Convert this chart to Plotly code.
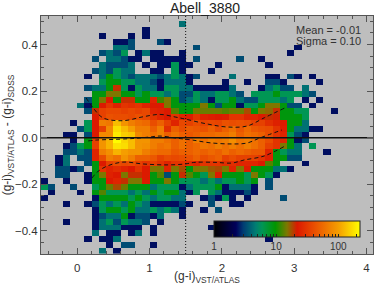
import math
import plotly.graph_objects as go

n, b, t, g, G = 2.4, 3.3, 4.3, 6, 9
o = 15

x_edges_start, x_bin, n_cols = -0.5, 0.1, 46
y_top, y_bin, n_rows = 0.525, 0.025, 41

row_00 = {}
row_01 = {19: t}
row_02 = {14: n}
row_03 = {8: n, 12: n, 14: n}
row_04 = {10: n, 11: n, 12: b, 16: b, 17: n}
row_05 = {10: t, 11: t, 12: b, 21: b, 35: n}
row_06 = {8: b, 9: t, 10: b, 11: g, 13: n, 14: t, 15: n, 16: n, 19: n, 34: n}
row_07 = {7: b, 9: t, 10: t, 11: b, 12: n, 13: n, 15: n, 16: n, 17: n, 18: n, 19: n, 21: b, 27: b, 30: n}
row_08 = {8: t, 9: b, 10: b, 11: b, 12: t, 14: n, 16: n, 17: n, 18: g, 19: n, 20: n, 24: n, 31: n}
row_09 = {7: b, 8: t, 9: b, 10: g, 11: t, 12: t, 15: n, 16: n, 18: g, 19: n, 23: n}
row_10 = {6: n, 8: t, 9: G, 10: g, 11: t, 12: b, 13: t, 14: t, 15: t, 16: b, 17: t, 18: g, 19: t, 20: n, 21: b, 26: t, 31: n, 32: n, 34: b, 35: n, 37: n}
row_11 = {8: g, 9: G, 10: G, 11: g, 12: g, 13: t, 14: t, 15: b, 16: n, 17: t, 18: t, 19: t, 20: n, 25: n, 28: n, 31: b, 32: b, 33: n, 38: n}
row_12 = {6: b, 7: t, 8: t, 9: G, 10: 20, 11: g, 12: n, 13: g, 14: t, 15: t, 16: n, 17: g, 18: g, 19: t, 20: t, 21: n, 22: n, 23: n, 24: n, 25: n, 26: t, 30: n, 31: t, 32: g, 33: b, 34: b, 36: t}
row_13 = {7: G, 8: G, 9: o, 10: o, 11: G, 12: G, 13: g, 14: G, 15: g, 16: g, 17: t, 18: g, 19: b, 20: b, 21: g, 22: t, 23: t, 24: g, 25: g, 26: t, 27: b, 29: g, 30: g, 31: g, 32: G, 33: g, 34: g, 35: g, 36: t, 37: b}
row_14 = {6: b, 7: G, 8: o, 9: 22, 10: G, 11: 20, 12: 20, 13: G, 14: G, 15: 25, 16: 12, 17: o, 18: G, 19: b, 20: t, 21: g, 22: t, 23: n, 24: g, 25: g, 26: G, 27: t, 28: b, 29: b, 30: g, 31: g, 32: g, 33: t, 34: g, 36: n, 38: n}
row_15 = {5: t, 6: n, 7: G, 8: 22, 9: 30, 10: 24, 11: 30, 12: 28, 13: 30, 14: 25, 15: 22, 16: 22, 17: o, 18: G, 19: G, 20: G, 21: G, 22: o, 23: G, 24: b, 25: G, 26: G, 27: n, 28: g, 29: g, 30: G, 31: o, 32: o, 33: G, 34: b, 35: b, 37: n}
row_16 = {6: b, 7: 20, 8: 35, 9: 38, 10: 38, 11: 35, 12: 38, 13: 35, 14: 38, 15: 25, 16: 24, 17: 22, 18: 13, 19: G, 20: G, 21: 14, 22: 14, 23: 14, 24: 14, 25: 13, 26: 14, 27: 14, 28: 18, 29: G, 30: o, 31: 16, 32: 20, 33: G, 34: G, 35: g, 36: g, 40: n}
row_17 = {7: 22, 8: 35, 9: 42, 10: 40, 11: 40, 12: 38, 13: 42, 14: 38, 15: 30, 16: 25, 17: 22, 18: 30, 19: 25, 20: 23, 21: 30, 22: 24, 23: 23, 24: 22, 25: 23, 26: 30, 27: 30, 28: 25, 29: 25, 30: 22, 31: 20, 32: 21, 33: G, 34: G, 35: G, 36: g}
row_18 = {4: n, 6: g, 7: 22, 8: 70, 9: 65, 10: 130, 11: 90, 12: 70, 13: 60, 14: 55, 15: 40, 16: 50, 17: 35, 18: 25, 19: 38, 20: 35, 21: 40, 22: 36, 23: 38, 24: 36, 25: 42, 26: 40, 27: 42, 28: 40, 29: 35, 30: 35, 31: 28, 32: 24, 33: 22, 34: G, 35: G, 36: t}
row_19 = {5: b, 6: g, 7: 22, 8: 35, 9: 80, 10: 170, 11: 130, 12: 100, 13: 70, 14: 70, 15: 50, 16: 70, 17: 28, 18: 50, 19: 40, 20: 48, 21: 45, 22: 42, 23: 50, 24: 40, 25: 50, 26: 60, 27: 45, 28: 55, 29: 45, 30: 42, 31: 40, 32: 30, 33: 23, 34: G, 35: t, 36: t, 37: n, 38: n}
row_20 = {3: n, 4: n, 6: b, 7: 22, 8: 80, 9: 80, 10: 190, 11: 150, 12: 140, 13: 80, 14: 70, 15: 60, 16: 70, 17: 50, 18: 60, 19: 50, 20: 45, 21: 50, 22: 55, 23: 55, 24: 60, 25: 60, 26: 70, 27: 50, 28: 60, 29: 55, 30: 50, 31: 40, 32: 30, 33: 25, 34: g, 35: b, 36: n}
row_21 = {4: n, 6: G, 7: 35, 8: 90, 9: 120, 10: 220, 11: 160, 12: 130, 13: 90, 14: 90, 15: 70, 16: 70, 17: 60, 18: 50, 19: 60, 20: 50, 21: 70, 22: 60, 23: 70, 24: 65, 25: 70, 26: 85, 27: 65, 28: 70, 29: 60, 30: 50, 31: 40, 32: 30, 33: 25, 34: G, 35: n, 36: b}
row_22 = {3: n, 4: b, 5: g, 6: G, 7: 35, 8: 90, 9: 120, 10: 180, 11: 170, 12: 130, 13: 90, 14: 85, 15: 70, 16: 60, 17: 65, 18: 50, 19: 60, 20: 50, 21: 55, 22: 65, 23: 60, 24: 70, 25: 60, 26: 70, 27: 60, 28: 70, 29: 60, 30: 50, 31: 35, 32: 30, 33: o, 34: G, 35: t, 37: g}
row_23 = {3: b, 4: b, 5: t, 6: b, 7: 25, 8: 70, 9: 85, 10: 120, 11: 100, 12: 90, 13: 90, 14: 70, 15: 60, 16: 55, 17: 55, 18: 45, 19: 50, 20: 50, 21: 55, 22: 50, 23: 55, 24: 50, 25: 60, 26: 50, 27: 55, 28: 50, 29: 45, 30: 45, 31: 25, 32: G, 33: g, 34: t, 35: t, 39: n}
row_24 = {2: n, 3: t, 5: b, 6: b, 7: 25, 8: 40, 9: 70, 10: 60, 11: 90, 12: 70, 13: 50, 14: 50, 15: 45, 16: 35, 17: 40, 18: 38, 19: 40, 20: 42, 21: 50, 22: 40, 23: 45, 24: 50, 25: 35, 26: 40, 27: 35, 28: 35, 29: 35, 30: 30, 31: 24, 32: G, 33: G, 34: b, 35: b}
row_25 = {2: n, 3: t, 6: b, 7: G, 8: 22, 9: 35, 10: 40, 11: 38, 12: 40, 13: 35, 14: 30, 15: 35, 16: 30, 17: 25, 18: 30, 19: 30, 20: 28, 21: 25, 22: 30, 23: 30, 24: 30, 25: 28, 26: 28, 27: 25, 28: 25, 29: 25, 30: 22, 31: 13, 32: G, 36: n}
row_26 = {2: b, 3: b, 4: n, 5: b, 7: G, 8: 30, 9: 25, 10: 28, 11: 25, 12: 22, 13: 30, 14: 22, 15: o, 16: o, 17: 25, 18: o, 19: 18, 20: G, 21: o, 22: o, 23: 17, 24: 18, 25: o, 26: 25, 27: o, 28: 22, 29: G, 30: G, 31: G, 32: t, 33: t, 34: n}
row_27 = {2: b, 3: b, 6: n, 7: G, 8: o, 9: 24, 10: 22, 11: o, 12: 20, 13: 20, 14: 22, 15: G, 16: 13, 17: b, 18: G, 19: 20, 20: 13, 21: G, 22: g, 23: o, 24: 22, 25: G, 26: G, 27: G, 28: g, 29: o, 30: G, 31: g, 32: n}
row_28 = {0: n, 3: n, 6: n, 7: G, 8: G, 9: 22, 10: 25, 11: 20, 12: o, 13: o, 14: 22, 15: G, 16: G, 17: o, 18: G, 19: g, 20: g, 21: g, 22: t, 23: g, 24: t, 25: g, 26: g, 27: G, 28: g, 29: G, 31: b}
row_29 = {0: g, 1: b, 4: b, 7: g, 8: G, 9: 14, 10: 18, 11: 14, 12: G, 13: G, 14: G, 15: t, 16: g, 17: g, 18: g, 19: n, 20: t, 21: g, 22: g, 23: g, 24: G, 25: n, 26: t, 27: t, 28: t, 29: n, 31: b}
row_30 = {1: n, 5: n, 7: G, 8: 13, 9: g, 10: g, 11: g, 12: t, 13: g, 14: t, 15: G, 16: g, 17: G, 18: G, 19: t, 20: n, 21: g, 23: g, 24: t, 25: n, 26: n, 27: n, 28: b, 29: n}
row_31 = {0: n, 7: n, 8: G, 9: G, 10: G, 11: G, 12: g, 13: G, 14: g, 15: t, 16: g, 17: g, 18: t, 19: t, 22: n, 23: b, 24: n, 25: g, 26: n, 28: n, 33: b}
row_32 = {3: n, 6: n, 7: b, 8: g, 9: t, 10: g, 11: t, 12: G, 13: g, 14: t, 15: n, 16: n, 17: n, 18: n, 19: b, 20: n, 23: b, 26: n, 27: n}
row_33 = {7: n, 8: g, 9: G, 10: G, 11: g, 12: G, 13: t, 14: t, 15: g, 16: t, 17: g, 18: t, 19: n, 22: n, 24: b}
row_34 = {7: n, 8: b, 9: t, 10: t, 11: G, 12: n, 13: b, 14: b, 15: n, 16: t, 19: n}
row_35 = {3: n, 7: n, 8: t, 9: g, 10: b, 11: g, 12: t, 13: t, 14: b, 16: n}
row_36 = {7: n, 8: t, 9: t, 10: t, 11: n, 12: n, 13: n, 15: n, 23: n}
row_37 = {7: t, 9: n, 10: n, 12: n, 13: t, 15: n}
row_38 = {6: n, 8: n, 9: n, 10: t, 31: n}
row_39 = {9: n, 11: b, 12: b, 15: n}
row_40 = {8: t, 10: n}

rows = [row_00, row_01, row_02, row_03, row_04, row_05, row_06, row_07, row_08, row_09,
        row_10, row_11, row_12, row_13, row_14, row_15, row_16, row_17, row_18, row_19,
        row_20, row_21, row_22, row_23, row_24, row_25, row_26, row_27, row_28, row_29,
        row_30, row_31, row_32, row_33, row_34, row_35, row_36, row_37, row_38, row_39, row_40]

upper_x = [0.124, 0.221, 0.359, 0.635, 0.912, 1.146, 1.354, 1.492, 1.796, 2.072, 2.348, 2.583, 2.873]
upper_y = [0.171, 0.128, 0.085, 0.073, 0.090, 0.100, 0.089, 0.080, 0.059, 0.046, 0.050, 0.085, 0.128]
middle_x = [0.152, 0.276, 0.552, 0.801, 1.008, 1.146, 1.395, 1.588, 1.837, 2.141, 2.348, 2.528, 2.831]
middle_y = [-0.014, -0.010, -0.007, -0.003, 0.003, 0.007, -0.003, -0.010, -0.022, -0.027, -0.023, -0.001, 0.033]
lower_x = [0.207, 0.276, 0.414, 0.635, 0.912, 1.243, 1.492, 1.630, 1.906, 2.141, 2.307, 2.583, 2.873]
lower_y = [-0.173, -0.148, -0.122, -0.105, -0.113, -0.117, -0.113, -0.106, -0.106, -0.109, -0.096, -0.079, -0.036]

cbar_max_log = 2.35
color_stops = [[0.0, "rgb(0,0,0)"], [0.15, "rgb(0,0,90)"], [0.20, "rgb(0,60,115)"],
               [0.285, "rgb(0,125,115)"], [0.33, "rgb(0,150,85)"], [0.42, "rgb(0,150,0)"],
               [0.50, "rgb(125,120,0)"], [0.57, "rgb(220,25,0)"], [0.70, "rgb(235,85,0)"],
               [0.856, "rgb(245,160,0)"], [1.0, "rgb(255,255,0)"]]

x_centers = [x_edges_start + x_bin * (i + 0.5) for i in range(n_cols)]
y_centers = [y_top - y_bin * (j + 0.5) for j in range(n_rows)]
z = [[math.log10(r[i]) if i in r else None for i in range(n_cols)] for r in rows]

major = [1, 10, 100]
minor_vals = [2, 3, 4, 5, 6, 7, 8, 9, 20, 30, 40, 50, 60, 70, 80, 90, 200]
tickvals = [math.log10(v) for v in major + minor_vals]
ticktext = [str(v) for v in major] + [""] * len(minor_vals)

W, H = 374, 285
L, R, T, B = 41, 1, 16, 31
pw, ph = W - L - R, H - T - B

fig = go.Figure()
fig.add_trace(go.Heatmap(
    x=x_centers, y=y_centers, z=z, zmin=0, zmax=cbar_max_log, colorscale=color_stops,
    hoverongaps=False, xgap=0, ygap=0,
    colorbar=dict(orientation="h", x=(214 - L) / pw, xanchor="left", y=-0.01, yanchor="bottom",
                  lenmode="pixels", len=146, thicknessmode="pixels", thickness=16,
                  outlinecolor="#222", outlinewidth=1, tickvals=tickvals, ticktext=ticktext,
                  ticks="inside", ticklen=3, tickcolor="#222", tickwidth=1,
                  tickfont=dict(family="Liberation Sans", size=10, color="#333"), xpad=0, ypad=0),
))
for xs, ys in ((upper_x, upper_y), (middle_x, middle_y), (lower_x, lower_y)):
    fig.add_trace(go.Scatter(x=xs, y=ys, mode="lines", line=dict(color="#111", width=1, dash="4px,3px", shape="spline"),
                             showlegend=False, hoverinfo="skip"))
fig.add_trace(go.Scatter(x=[-0.5, 4.09], y=[0, 0], mode="lines", line=dict(color="#111", width=1.5), showlegend=False))
fig.add_trace(go.Scatter(x=[1.5, 1.5], y=[-0.5, 0.523], mode="lines", line=dict(color="#111", width=1, dash="1px,2px"), showlegend=False))

axis_common = dict(showgrid=False, zeroline=False, showline=True, linecolor="#555", linewidth=1, mirror="ticks",
                   ticks="inside", tickcolor="#555", tickfont=dict(family="Liberation Sans", size=11.5, color="#333"),
                   ticklen=6)
fig.update_xaxes(range=[-0.5, 4.09], tickvals=[0, 1, 2, 3, 4], minor=dict(dtick=0.2, ticks="inside", ticklen=3, tickcolor="#555"),
                 ticklabelstandoff=3,
                 title=dict(text="(g-i)<sub>VST/ATLAS</sub>", font=dict(family="Liberation Sans", size=12, color="#333"), standoff=3),
                 **axis_common)
fig.update_yaxes(range=[-0.5, 0.523], tickvals=[-0.4, -0.2, 0.0, 0.2, 0.4], tickformat=".1f",
                 minor=dict(dtick=0.05, ticks="inside", ticklen=3, tickcolor="#555"),
                 title=dict(text="(g-i)<sub>VST/ATLAS</sub> - (g-i)<sub>SDSS</sub>", font=dict(family="Liberation Sans", size=12, color="#333"), standoff=2),
                 **axis_common)
fig.update_layout(width=W, height=H, autosize=False, margin=dict(l=L, r=R, t=T, b=B),
                  paper_bgcolor="white", plot_bgcolor="#BEBEBE", showlegend=False,
                  title=dict(text="Abell_3880", x=(205) / W, xanchor="center", y=1 - 8 / H, yanchor="middle",
                             font=dict(family="Liberation Sans", size=14, color="#222")))
fig.add_annotation(xref="paper", yref="paper", x=(294 - L) / pw, y=1 - (30 - T) / ph, text="Mean = -0.01", showarrow=False,
                   xanchor="left", yanchor="middle", font=dict(family="Liberation Sans", size=11, color="#333"))
fig.add_annotation(xref="paper", yref="paper", x=(294 - L) / pw, y=1 - (41.5 - T) / ph, text="Sigma = 0.10", showarrow=False,
                   xanchor="left", yanchor="middle", font=dict(family="Liberation Sans", size=11, color="#333"))
fig.write_html("out.html", config={"displayModeBar": False},
               post_script="document.body.style.margin='0';document.body.style.overflow='hidden';")
